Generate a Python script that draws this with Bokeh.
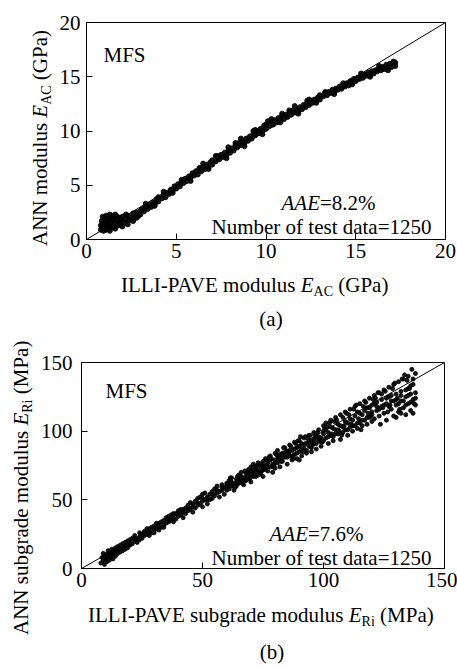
from bokeh.plotting import figure
from bokeh.models import Range1d, FixedTicker, Label, Div
from bokeh.layouts import column, row
from bokeh.embed import file_html
from bokeh.resources import INLINE

# ---------------- data ----------------
# (a) ILLI-PAVE E_AC (GPa) vs ANN E_AC (GPa)
ac_illi = [0.8, 0.8, 0.85, 0.9, 0.9, 0.95, 1.0, 1.0, 1.05, 1.1, 1.1, 1.15, 1.2, 1.2, 1.25, 1.3, 1.3, 1.35, 1.4, 1.4,
           1.45, 1.5, 1.5, 1.55, 1.6, 1.6, 1.7, 1.7, 1.75, 1.8, 1.85, 1.9, 1.95, 2.0, 2.0,
           2.1, 2.2, 2.3, 2.3, 2.4, 2.5, 2.6, 2.6, 2.7, 2.8, 2.9, 3.0, 3.0, 3.1, 3.2, 3.3, 3.4, 3.5, 3.6, 3.7, 3.8, 3.9, 4.0, 4.0,
           4.2, 4.3, 4.4, 4.5, 4.6, 4.7, 4.8, 4.9, 5.0, 5.1, 5.2, 5.3, 5.4, 5.5, 5.6, 5.7, 5.8, 5.9, 6.0, 6.1,
           6.2, 6.3, 6.4, 6.5, 6.6, 6.7, 6.8, 6.9, 7.0, 7.0,
           7.2, 7.3, 7.4, 7.5, 7.6, 7.7, 7.8, 7.9, 8.0, 8.1, 8.2, 8.3, 8.4, 8.5, 8.6, 8.7, 8.8, 8.9, 9.0, 9.1,
           9.2, 9.3, 9.4, 9.5, 9.6, 9.7, 9.8, 9.9, 10.0, 10.0,
           10.2, 10.3, 10.4, 10.5, 10.6, 10.7, 10.8, 10.9, 11.0, 11.1, 11.2, 11.3, 11.4, 11.5, 11.6, 11.7, 11.8, 11.9,
           12.0, 12.1, 12.2, 12.3, 12.4, 12.5, 12.6, 12.7, 12.8, 12.9, 13.0, 13.0,
           13.2, 13.3, 13.4, 13.5, 13.6, 13.7, 13.8, 13.9, 14.0, 14.1, 14.2, 14.3, 14.4, 14.5, 14.6, 14.7, 14.8, 14.9,
           15.0, 15.1, 15.2, 15.3, 15.4, 15.5, 15.6, 15.7, 15.8, 15.9, 16.0, 16.1, 16.2, 16.3, 16.4, 16.5, 16.6, 16.7,
           16.8, 16.9, 17.0, 17.1, 17.2, 17.2,
           2.2, 2.8, 3.3, 3.8, 4.3, 4.8, 5.3, 5.8, 6.3, 6.8, 7.3, 7.8, 8.3, 8.8, 9.3, 9.8, 10.3, 10.8, 11.3, 11.8,
           12.3, 12.8, 13.3, 13.8, 14.3, 14.8, 15.3, 15.8, 16.3, 16.8, 17.1, 1.0, 1.3, 1.6, 0.9, 1.2,
           6.5, 7.2, 7.9, 8.6, 9.4, 10.1, 10.9, 11.6, 12.4]
ac_ann = [0.9, 1.3, 1.7, 1.1, 2.1, 0.8, 1.5, 1.9, 1.2, 2.2, 0.9, 1.6, 1.3, 2.0, 1.0, 1.8, 2.3, 1.4, 1.1, 2.1,
          1.7, 1.2, 1.9, 2.2, 1.5, 1.0, 1.8, 2.1, 1.3, 1.6, 2.0, 1.4, 1.8, 1.2, 2.1,
          1.6, 1.9, 1.4, 2.2, 1.8, 2.0, 1.7, 2.4, 2.1, 2.5, 2.2, 2.6, 2.3, 2.8, 2.6, 3.0, 2.8, 3.2, 3.0, 3.4, 3.3, 3.7, 3.5, 3.9,
          3.8, 4.1, 3.9, 4.3, 4.2, 4.6, 4.5, 4.9, 4.7, 5.1, 4.9, 5.3, 5.2, 5.6, 5.4, 5.8, 5.7, 6.1, 5.9, 6.3,
          6.0, 6.5, 6.3, 6.7, 6.5, 6.9, 6.7, 7.1, 6.9, 7.3,
          7.2, 7.6, 7.4, 7.8, 7.6, 8.0, 7.8, 8.2, 8.0, 8.4, 8.2, 8.7, 8.5, 8.9, 8.7, 9.1, 8.9, 9.3, 9.1, 9.5,
          9.3, 9.8, 9.6, 10.0, 9.8, 10.2, 10.0, 10.5, 10.2, 10.6,
          10.5, 10.9, 10.6, 11.0, 10.8, 11.2, 11.0, 11.4, 11.1, 11.5, 11.3, 11.7, 11.5, 11.9, 11.7, 12.0, 11.8, 12.2,
          12.0, 12.4, 12.2, 12.6, 12.4, 12.8, 12.6, 12.9, 12.8, 13.1, 12.9, 13.3,
          13.2, 13.5, 13.3, 13.6, 13.5, 13.8, 13.6, 13.9, 13.8, 14.1, 13.9, 14.2, 14.1, 14.4, 14.2, 14.6, 14.5, 14.8,
          14.6, 14.9, 14.8, 15.1, 14.9, 15.2, 15.1, 15.4, 15.2, 15.5, 15.3, 15.6, 15.5, 15.8, 15.6, 15.9, 15.7, 16.1,
          15.8, 16.2, 15.9, 16.2, 16.0, 16.3,
          2.3, 2.0, 3.3, 3.1, 4.4, 4.3, 5.5, 5.4, 6.6, 6.5, 7.7, 7.5, 8.9, 8.6, 10.0, 9.7, 11.1, 10.8, 11.9, 11.6,
          12.8, 12.6, 13.6, 13.4, 14.4, 14.3, 15.3, 15.0, 16.0, 15.6, 16.4, 2.0, 0.8, 2.3, 1.4, 1.8,
          7.0, 7.7, 8.5, 9.3, 10.1, 10.9, 11.6, 12.3, 12.9]

# (b) ILLI-PAVE E_Ri (MPa) vs ANN E_Ri (MPa)
ri_illi = [8, 8.5, 9, 9, 9.5, 10, 10, 10.5, 11, 11, 11.5, 12, 12, 12.5, 13, 13, 13.5, 14, 14, 14.5, 15, 15, 15.5, 16, 16,
           16.5, 17, 17, 17.5, 18, 18, 18.5, 19, 19, 19.5, 20, 20,
           21, 21, 22, 22, 23, 23, 24, 24, 25, 25, 26, 26, 27, 27, 28, 28, 29, 29, 30, 30, 31, 31, 32, 32, 33, 33, 34, 34,
           35, 35, 36, 36, 37, 37, 38, 38, 39, 39, 40, 40,
           41, 41, 42, 42, 43, 43, 44, 44, 45, 45, 46, 46, 47, 47, 48, 48, 49, 49, 50, 50, 50, 51, 51, 52, 52, 53, 53,
           54, 54, 55, 55, 56, 56, 57, 57, 58, 58, 59, 59, 60, 60,
           61, 61, 62, 62, 63, 63, 64, 64, 65, 65, 66, 66, 67, 67, 68, 68, 69, 69, 70, 70, 70, 71, 71, 72, 72, 73, 73,
           74, 74, 75, 75, 75, 76, 76, 77, 77, 78, 78, 79, 79, 80, 80, 80,
           81, 81, 82, 82, 83, 83, 84, 84, 85, 85, 86, 86, 87, 87, 88, 88, 89, 89, 90, 90, 90, 91, 91, 92, 92, 93, 93,
           94, 94, 95, 95, 96, 96, 97, 97, 98, 98, 99, 99, 100, 100, 100,
           101, 101, 102, 102, 103, 103, 104, 104, 105, 105, 106, 106, 107, 107, 108, 108, 109, 109, 110, 110, 111, 111,
           112, 112, 113, 113, 114, 114, 115, 115, 116, 116, 117, 117, 118, 118, 119, 119, 120, 120, 120,
           121, 121, 122, 122, 123, 123, 124, 124, 125, 125, 126, 126, 127, 127, 128, 128, 129, 129, 130, 130, 131, 131,
           132, 132, 133, 133, 134, 134, 135, 135, 135, 136, 136, 137, 137, 137, 138, 138, 138, 136, 134, 132, 130,
           62, 64, 66, 68, 70, 72, 74, 76, 78, 80, 82, 84, 86, 88, 90, 92, 94, 96, 98, 100, 102, 104, 106, 108, 110,
           112, 114, 116, 118, 120, 122, 124, 126, 128, 130, 132, 134, 136, 138,
           137, 135, 133, 131, 129, 127, 125, 123, 121, 119, 117, 115, 113, 111, 109, 107, 105, 103, 101, 99, 97, 95,
           93, 91, 89, 87, 85, 83, 81, 79, 77, 75, 73, 71, 69, 67, 65, 63, 61,
           12, 14, 16, 18, 22, 24, 26, 28, 30, 32, 34, 36, 38, 40, 42, 44, 46, 48, 50, 52, 54, 56, 58, 60,
           10, 9, 11, 13, 15, 17, 19, 20,
           61.5, 63.5, 65.5, 67.5, 69.5, 71.5, 73.5, 75.5, 77.5, 79.5, 81.5, 83.5, 85.5, 87.5, 89.5, 91.5, 93.5,
           95.5, 97.5, 99.5, 101.5, 103.5, 105.5, 107.5, 109.5, 111.5, 113.5, 115.5, 117.5, 119.5, 121.5, 123.5,
           125.5, 127.5, 129.5, 131.5, 133.5, 135.5, 137.5,
           64.5, 68.5, 72.5, 76.5, 80.5, 84.5, 88.5, 92.5, 96.5, 100.5, 104.5, 108.5, 112.5, 116.5, 120.5, 124.5,
           128.5, 132.5, 136.5, 134.5, 130.5, 126.5, 122.5, 118.5, 114.5, 110.5, 106.5, 102.5, 98.5, 94.5, 90.5,
           86.5, 82.5, 78.5, 74.5, 70.5, 66.5]
ri_ann = [4, 8, 6, 11, 3, 7, 10, 5, 9, 13, 6, 11, 8, 14, 10, 7, 12, 15, 9, 13, 11, 16, 14, 12, 17,
          15, 13, 18, 16, 14, 19, 17, 15, 20, 18, 17, 21,
          18, 22, 20, 24, 21, 19, 23, 26, 22, 25, 27, 24, 25, 29, 27, 24, 30, 26, 28, 31, 29, 33, 31, 28, 34, 30, 32, 35,
          33, 37, 34, 38, 35, 39, 37, 34, 40, 36, 38, 42,
          39, 43, 41, 37, 44, 40, 42, 46, 43, 48, 45, 41, 49, 44, 46, 51, 47, 52, 49, 54, 45, 50, 55, 52, 47, 54, 50,
          56, 51, 58, 53, 55, 60, 56, 52, 61, 57, 59, 54, 62, 57,
          58, 64, 60, 66, 62, 57, 65, 60, 68, 62, 64, 70, 66, 61, 69, 64, 72, 66, 68, 74, 63, 70, 76, 67, 73, 71, 77,
          69, 74, 72, 78, 67, 75, 80, 71, 77, 74, 82, 76, 70, 79, 84, 73,
          77, 86, 80, 74, 84, 78, 88, 81, 76, 85, 82, 90, 79, 86, 83, 92, 80, 88, 85, 93, 79, 87, 82, 90, 95, 86, 84,
          92, 97, 88, 85, 94, 99, 91, 87, 96, 101, 92, 89, 98, 104, 93,
          95, 106, 99, 91, 103, 108, 96, 93, 101, 110, 98, 105, 94, 112, 103, 99, 107, 114, 101, 97, 109, 116,
          104, 100, 111, 118, 106, 102, 113, 120, 108, 104, 115, 122, 110, 105, 117, 124, 112, 107, 119,
          109, 126, 115, 121, 111, 128, 118, 123, 113, 130, 120, 108, 125, 132, 116, 122, 111, 134, 119, 127, 114, 136,
          122, 129, 117, 138, 112, 125, 131, 120, 140, 115, 127, 123, 134, 113, 128, 119, 142, 133, 119, 113, 110,
          63, 62, 67, 66, 71, 70, 76, 72, 79, 77, 83, 84, 86, 87, 89, 87, 89, 91, 93, 100, 96, 102, 101, 110, 106,
          108, 114, 112, 117, 114, 118, 127, 124, 126, 123, 126, 130, 121, 124,
          138, 126, 122, 120, 122, 118, 119, 116, 120, 110, 108, 106, 104, 103, 101, 104, 98, 97, 101, 95, 95, 93,
          91, 91, 84, 82, 81, 81, 82, 74, 74, 75, 68, 67, 69, 64, 65, 60, 61,
          10, 12, 14, 16, 22, 21, 26, 29, 26, 33, 30, 36, 40, 40, 43, 44, 47, 48, 51, 50, 54, 57, 59, 60,
          8, 8, 11, 13, 13, 15, 17, 19,
          66, 59, 63, 71, 65, 74, 70, 73, 81, 75, 79, 88, 84, 80, 93, 85, 95, 90, 99, 92, 103, 98, 108, 97, 113,
          105, 119, 101, 121, 111, 124, 105, 129, 119, 135, 116, 141, 131, 120,
          67, 70, 75, 79, 83, 86, 91, 96, 97, 102, 107, 104, 116, 118, 123, 117, 131, 138, 145, 137, 124, 114,
          128, 113, 109, 112, 100, 106, 94, 97, 96, 89, 78, 80, 71, 73, 62]

assert len(ac_illi) == len(ac_ann), (len(ac_illi), len(ac_ann))
assert len(ri_illi) == len(ri_ann), (len(ri_illi), len(ri_ann))

ticks_a = [0, 5, 10, 15, 20]
ticks_b = [0, 50, 100, 150]
diag_a = [0, 20]
diag_b = [0, 150]

FONT = "Liberation Serif"
FS = 21

TXT = ("font-family:'Liberation Serif',serif;font-size:21px;line-height:24px;color:#000;"
       "white-space:nowrap;")


def sub(s):
    return f'<span style="font-size:14px;position:relative;top:4px;">{s}</span>'


def title_html(head, sym, subs, unit):
    return f'{head}<i>{sym}</i>{sub(subs)} {unit}'


def box_div(w, h, inner):
    html = f'<div style="position:relative;width:{w}px;height:{h}px;">{inner}</div>'
    return Div(text=html, width=w, height=h, margin=0)


def htext(left, top, content, width=None):
    extra = f"width:{width}px;text-align:center;" if width else ""
    return f'<div style="position:absolute;left:{left}px;top:{top}px;{TXT}{extra}">{content}</div>'


def vtext(left, top, content):
    return (f'<div style="position:absolute;left:{left}px;top:{top}px;{TXT}'
            f'transform:rotate(-90deg);transform-origin:0 0;">{content}</div>')


def make_fig(rng, ticks, fw, fh, left, top, bottom, right):
    p = figure(frame_width=fw, frame_height=fh, output_backend="svg", toolbar_location=None,
               x_range=Range1d(rng[0], rng[1]), y_range=Range1d(rng[0], rng[1]),
               min_border_left=left, min_border_top=top, min_border_bottom=bottom,
               min_border_right=right, margin=0)
    p.grid.visible = False
    p.outline_line_color = "black"
    p.outline_line_width = 1
    p.background_fill_color = "white"
    p.border_fill_color = "white"
    for ax in (p.xaxis[0], p.yaxis[0]):
        ax.ticker = FixedTicker(ticks=ticks)
        ax.major_tick_in = 6
        ax.major_tick_out = 0
        ax.minor_tick_in = 0
        ax.minor_tick_out = 0
        ax.axis_line_color = "black"
        ax.major_tick_line_color = "black"
        ax.major_label_text_font = FONT
        ax.major_label_text_font_size = f"{FS}px"
        ax.major_label_text_color = "black"
    return p


def mapper(fl, ft, fw, fh, rng):
    span = rng[1] - rng[0]
    def dx(px):
        return rng[0] + (px - fl) / fw * span
    def dy(py):
        return rng[0] + (ft + fh - py) / fh * span
    return dx, dy


def put(p, dx, dy, x, y, text, italic=False):
    p.add_layout(Label(x=dx(x), y=dy(y), text=text, text_font=FONT, text_font_size=f"{FS}px",
                       text_font_style="italic" if italic else "normal", text_color="black",
                       text_baseline="alphabetic", text_align="left"))


AAE_W = (611 * 3) / 1000 * FS   # italic "AAE" advance width

# ---------------- panel (a) : page rows 0..330 ----------------
YA_W = 55
FLa, FTa, FWa, FHa = 86, 22, 359, 217
FIG_A_H = 273
pa = make_fig((0, 20), ticks_a, FWa, FHa, left=FLa - YA_W, top=FTa, bottom=FIG_A_H - FTa - FHa, right=12)
pa.xaxis.major_label_standoff = 4
pa.yaxis.major_label_standoff = 6
pa.line(diag_a, diag_a, line_color="black", line_width=1)
pa.scatter(ac_illi, ac_ann, size=5, marker="circle", fill_color="black", line_color="black", alpha=0.9)
dxa, dya = mapper(FLa, FTa, FWa, FHa, (0, 20))
put(pa, dxa, dya, 103, 54, "MFS")
put(pa, dxa, dya, 281, 202, "AAE", italic=True)
put(pa, dxa, dya, 281 + AAE_W, 202, "=8.2%")
put(pa, dxa, dya, 211, 226, "Number of test data=1250")

ya_div = box_div(YA_W, 330, vtext(47 - 19, 246,
                                  title_html("ANN modulus ", "E", "AC", "(GPa)")))
xa_div = box_div(457 - YA_W, 330 - FIG_A_H,
                 htext(121 - YA_W, 292 - FIG_A_H - 19, title_html("ILLI-PAVE modulus ", "E", "AC", "(GPa)"))
                 + htext(0, 326 - FIG_A_H - 19, "(a)", width=2 * (271 - YA_W)))

# ---------------- panel (b) : page rows 330..664 ----------------
TOPB = 330
YB_W = 36
FLb, FTb, FWb, FHb = 81, 362, 363, 206
FIG_B_H = 272
pb = make_fig((0, 150), ticks_b, FWb, FHb, left=FLb - YB_W, top=FTb - TOPB,
              bottom=FIG_B_H - (FTb - TOPB) - FHb, right=13)
pb.xaxis.major_label_standoff = 4
pb.yaxis.major_label_standoff = 9
pb.line(diag_b, diag_b, line_color="black", line_width=1)
pb.scatter(ri_illi, ri_ann, size=4, marker="circle", fill_color="black", line_color="black", alpha=0.9)
dxb, dyb = mapper(FLb, FTb, FWb, FHb, (0, 150))
put(pb, dxb, dyb, 105, 390, "MFS")
put(pb, dxb, dyb, 269, 533, "AAE", italic=True)
put(pb, dxb, dyb, 269 + AAE_W, 533, "=7.6%")
put(pb, dxb, dyb, 211, 557, "Number of test data=1250")

XB_TOP = TOPB + FIG_B_H
yb_div = box_div(YB_W, 334, vtext(28 - 19, 635 - TOPB,
                                  title_html("ANN subgrade modulus ", "E", "Ri", "(MPa)")))
xb_div = box_div(457 - YB_W, 664 - XB_TOP,
                 htext(88 - YB_W, 622 - XB_TOP - 19, title_html("ILLI-PAVE subgrade modulus ", "E", "Ri", "(MPa)"))
                 + htext(0, 659 - XB_TOP - 19, "(b)", width=2 * (272 - YB_W)))

layout = column(
    row(ya_div, column(pa, xa_div, spacing=0), spacing=0),
    row(yb_div, column(pb, xb_div, spacing=0), spacing=0),
    spacing=0,
)
open("out.html", "w").write(file_html(layout, INLINE))
